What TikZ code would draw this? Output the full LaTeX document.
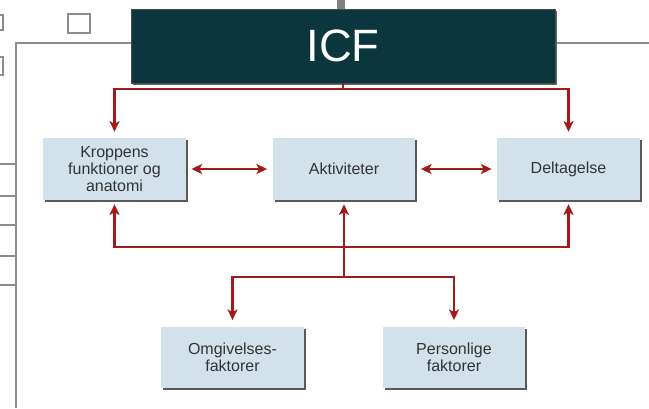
\documentclass[tikz,border=0pt]{standalone}
\usepackage{fontspec}
\setmainfont{Liberation Sans}
\usetikzlibrary{arrows.meta,shadows}
\definecolor{icfteal}{HTML}{0B363D}
\definecolor{boxblue}{HTML}{D3E2EA}
\definecolor{linkred}{HTML}{A21A1A}
\definecolor{boxtext}{HTML}{333333}
\tikzset{
icfbox/.style={rectangle, draw=black!70, fill=icfteal, text=white, inner sep=0pt, minimum width=318pt, minimum height=55.5pt, font=\fontsize{34}{36}\selectfont, drop shadow={shadow xshift=1.5pt, shadow yshift=-1.5pt, fill=black!60, opacity=1}},
partbox/.style={rectangle, fill=boxblue, text=boxtext, inner sep=0pt, align=center, minimum width=107pt, minimum height=46.5pt, font=\fontsize{12}{12.8}\selectfont, drop shadow={shadow xshift=1.5pt, shadow yshift=-1.5pt, fill=black!65, opacity=1}},
redline/.style={draw=linkred, line width=2pt},
redarrow/.style={redline, -{Stealth[length=8pt,width=7.5pt,inset=2pt]}, shorten >=4.5pt},
redboth/.style={redline, {Stealth[length=8pt,width=7.5pt,inset=2pt]}-{Stealth[length=8pt,width=7.5pt,inset=2pt]}, shorten >=4pt, shorten <=4pt},
framegray/.style={draw=black!45, line width=0.8pt},
}
\begin{document}
\begin{tikzpicture}[x=0.75pt, y=-0.75pt]
        \useasboundingbox (0,0) rectangle (649,408);
        \draw[framegray] (16,408) -- (16,43) -- (649,43);
        \draw[framegray] (68,14) rectangle (90,33);
        \draw[framegray] (-10,15) rectangle (3,30);
        \draw[framegray] (-10,57) rectangle (3,75);
        \foreach \ly in {164,196,225,256,285}
            \draw[framegray] (0,\ly) -- (16,\ly);
        \fill[black!50] (337,0) rectangle (345,9);

        \node[icfbox] at (343,46) (icf) {ICF};
        \node[partbox] at (114.5,169) (krop) {Kroppens\\funktioner og\\anatomi};
        \node[partbox] at (344,169) (akt) {Aktiviteter};
        \node[partbox] at (568.5,169) (delt) {Deltagelse};
        \node[partbox, minimum height=45.75pt] at (232.5,357.5) (omg) {Omgivelses-\\faktorer};
        \node[partbox, minimum height=45.75pt] at (454,357.5) (pers) {Personlige\\faktorer};

        \coordinate (topsplit) at (343,89);
        \coordinate (backbus) at (344,247);
        \coordinate (lowsplit) at (344,277);

        \draw[redline] (icf.south) -- (topsplit);
        \draw[redarrow] (topsplit) -| (krop.north);
        \draw[redarrow] (topsplit) -| (delt.north);
        \draw[redboth] (krop.east) -- (akt.west);
        \draw[redboth] (akt.east) -- (delt.west);
        \draw[redarrow, shorten >=3pt] (lowsplit) -- (akt.south);
        \draw[redarrow, shorten >=3pt] (backbus) -| (krop.south);
        \draw[redarrow, shorten >=3pt] (backbus) -| (delt.south);
        \draw[redarrow, shorten >=5pt] (lowsplit) -| (omg.north);
        \draw[redarrow, shorten >=5pt] (lowsplit) -| (pers.north);
\end{tikzpicture}
\end{document}
